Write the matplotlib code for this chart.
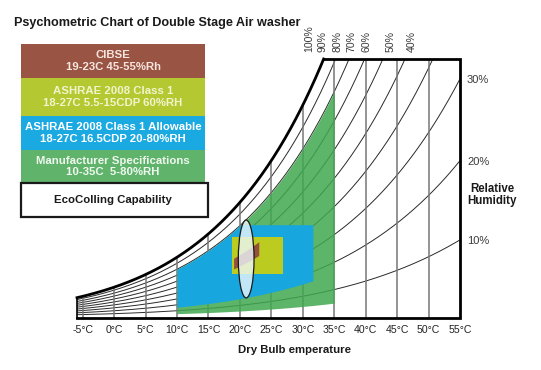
import matplotlib.pyplot as plt
import numpy as np
from matplotlib.patches import Rectangle, Ellipse

# dry bulb grid (deg C) and relative humidity curves (%)
db_ticks = [-5, 0, 5, 10, 15, 20, 25, 30, 35, 40, 45, 50, 55]
db_lines = [-5, 0, 5, 10, 15, 20, 25, 30, 35, 40, 45, 50]
rh_curves = [10, 20, 30, 40, 50, 60, 70, 80, 90]
rh_top = [100, 90, 80, 70, 60, 50, 40]
rh_top_at = [31.1, 33.2, 35.6, 37.8, 40.2, 43.9, 47.4]   # where the top labels sit (C)
rh_side = [30, 20, 10]

# chart window: dry bulb (C) and humidity ratio (g/kg)
t_range = [-5.9, 55]
w_range = [-0.18, 33.07]

# zones, drawn back to front
zone_colors = ['#40a850', '#17a6de', '#bccb20', '#95503c']
zone_alpha = [0.85, 1, 1, 1]
zone_t_lo = [10, 10, 18.7, 19]
zone_t_hi = [35, 31.6, 26.9, 23]
zone_rh_lo = [5, 16, 0, 45]
zone_rh_hi = [80, 80, 100, 55]
zone_w_lo = [0, 0, 5.5, 0]
zone_w_hi = [40, 11.8, 10.2, 40]

# EcoColling capability ellipse (C, g/kg)
eco_centre = [21.0, 7.4]
eco_size = [2.5, 10.0]

legend_lines = ['CIBSE\n19-23C 45-55%Rh',
                'ASHRAE 2008 Class 1\n18-27C 5.5-15CDP 60%RH',
                'ASHRAE 2008 Class 1 Allowable\n18-27C 16.5CDP 20-80%RH',
                'Manufacturer Specifications\n10-35C  5-80%RH',
                'EcoColling Capability']
legend_fill = ['#9a5444', '#b4c832', '#1ba9e1', '#5fb36b', 'white']
legend_ink = ['#f6e6df', '#f0f5cc', 'white', '#f0f8f0', '#1a1a1a']

plain = ['Liberation Sans', 'DejaVu Sans']

P = 101.325


def w_of(t, rh):
    ps = 0.61094 * np.exp(17.625 * t / (t + 243.04))
    pw = rh / 100.0 * ps
    return 622.0 * pw / (P - pw)


fig = plt.figure(figsize=(5.41, 3.70), dpi=100)
ax = fig.add_axes([77 / 541, 1 - 318 / 370, (460 - 77) / 541, (318 - 59) / 370])
ax.set_facecolor('none')
ax.set_xlim(t_range)
ax.set_ylim(w_range)
for s in ax.spines.values():
    s.set_visible(False)

grid = np.linspace(t_range[0], t_range[1], 600)

# rh curves and dry bulb lines
for rh in rh_curves:
    ax.plot(grid, w_of(grid, rh), color='#2a2a2a', lw=0.7, zorder=1)
for t in db_lines:
    ax.vlines(t, w_range[0], min(w_of(t, 100), w_range[1]), color='#777777', lw=1.1, zorder=1)

# zones
for i in range(len(zone_colors)):
    t = np.linspace(zone_t_lo[i], zone_t_hi[i], 300)
    lo = np.maximum(w_of(t, zone_rh_lo[i]), zone_w_lo[i])
    hi = np.minimum(w_of(t, zone_rh_hi[i]), zone_w_hi[i])
    ax.fill_between(t, lo, hi, color=zone_colors[i], alpha=zone_alpha[i], lw=0, zorder=2 + i * 0.1)

ax.add_patch(Ellipse(eco_centre, eco_size[0], eco_size[1], facecolor=(0.93, 0.97, 0.99, 0.8),
                     edgecolor='#1a1a1a', lw=0.9, zorder=3))

# saturation curve and frame
t_top = np.interp(w_range[1], w_of(grid, 100), grid)
tt = np.linspace(t_range[0], t_top, 300)
ax.plot(tt, w_of(tt, 100), color='black', lw=2, zorder=5, clip_on=False)
ax.plot([t_top, t_range[1], t_range[1], t_range[0]],
        [w_range[1], w_range[1], w_range[0], w_range[0]],
        color='black', lw=2, zorder=5, clip_on=False, solid_joinstyle='miter')
ax.plot([t_range[0], t_range[0]], [w_range[0], w_of(t_range[0], 100)],
        color='black', lw=1.2, zorder=5, clip_on=False)

ax.set_xticks(db_ticks)
ax.set_xticklabels([f'{t}°C' for t in db_ticks], family=plain, fontsize=7.6, color='#222222')
ax.set_yticks([])
ax.tick_params(axis='x', length=0, pad=5)

for rh, tx in zip(rh_top, rh_top_at):
    ax.annotate(f'{rh}%', (tx, w_range[1]), xytext=(0, 5), textcoords='offset points',
                rotation=90, ha='center', va='bottom', fontsize=7.6, family=plain,
                color='#3a3a3a', annotation_clip=False)
for rh in rh_side:
    ax.annotate(f'{rh}%', (t_range[1], w_of(t_range[1], rh)), xytext=(5, -1),
                textcoords='offset points', ha='left', va='center', fontsize=8,
                family=plain, color='#3a3a3a', annotation_clip=False)

# overlay in pixel units for title and legend boxes
ov = fig.add_axes([0, 0, 1, 1])
ov.set_xlim(0, 541)
ov.set_ylim(370, 0)
ov.axis('off')
ov.patch.set_visible(False)

ov.text(14, 26, 'Psychometric Chart of Double Stage Air washer', ha='left', va='baseline',
        fontsize=9.1, fontweight='bold', family=plain, color='#1a1a1a')
ov.text(492, 195, 'Relative\nHumidity', ha='center', va='center', fontsize=8.3,
        fontweight='bold', family=plain, color='#1a1a1a', linespacing=1.1)
ov.text(295, 350, 'Dry Bulb emperature', ha='center', va='center', fontsize=8.2,
        fontweight='bold', family=plain, color='#1a1a1a')

box_top = [44, 78, 116, 150, 183]
box_bot = [78, 116, 150, 183, 217]
for i, label in enumerate(legend_lines):
    if i < 4:
        ov.add_patch(Rectangle((21, box_top[i]), 184, box_bot[i] - box_top[i],
                               facecolor=legend_fill[i], edgecolor='none'))
    else:
        ov.add_patch(Rectangle((21, box_top[i]), 187, box_bot[i] - box_top[i],
                               facecolor='white', edgecolor='#1a1a1a', lw=1.6))
    ov.text(113, (box_top[i] + box_bot[i]) / 2, label, ha='center', va='center',
            fontsize=8.2, fontweight='bold', family=plain, color=legend_ink[i],
            linespacing=1.15)

fig.savefig('out.png', dpi=100)
